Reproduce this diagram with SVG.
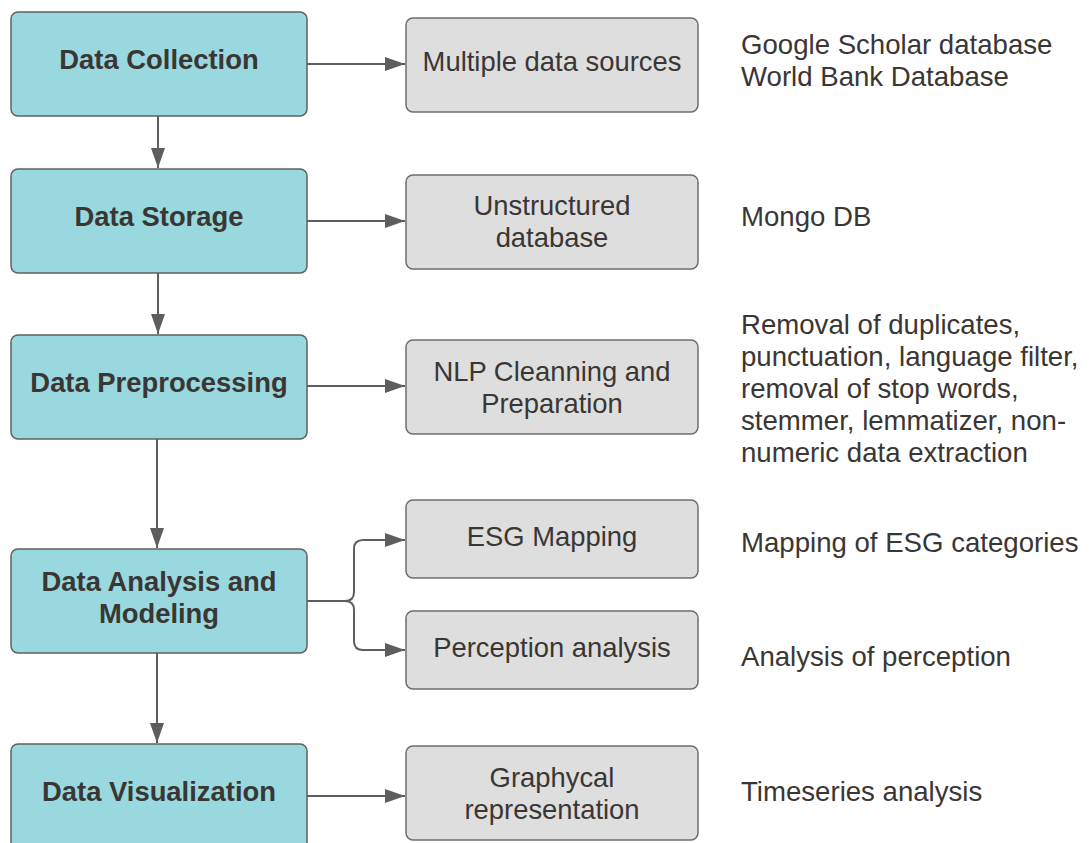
<svg xmlns="http://www.w3.org/2000/svg" width="1090" height="843" viewBox="0 0 1090 843">
<style>
.main rect{fill:#98d8de;stroke:#606060;stroke-width:1.5}
.sub rect{fill:#dedede;stroke:#6e6e6e;stroke-width:1.5}
text{font-family:"Liberation Sans",Arial,sans-serif;font-size:27.4px;fill:#3a3634}
.main text{font-weight:bold;text-anchor:middle}
.sub text{text-anchor:middle}
#notes text{font-size:27.6px}
.conn path{fill:none;stroke:#5e5e5e;stroke-width:2}
</style>
<defs>
<marker id="ah" viewBox="0 0 20 14" refX="20" refY="7" markerWidth="20" markerHeight="14" markerUnits="userSpaceOnUse" orient="auto">
<path d="M0,0 L20,7 L0,14 Z" fill="#5e5e5e"/>
</marker>
</defs>
<rect width="1090" height="843" fill="#ffffff"/>
<g class="conn">
<path d="M307,64 H405" marker-end="url(#ah)"/>
<path d="M307,221 H405" marker-end="url(#ah)"/>
<path d="M307,386 H405" marker-end="url(#ah)"/>
<path d="M307,601 H345 Q354,601 354,592 V549 Q354,540 363,540 H405" marker-end="url(#ah)"/>
<path d="M345,601 Q354,601 354,610 V641 Q354,650 363,650 H405" marker-end="url(#ah)"/>
<path d="M307,796 H405" marker-end="url(#ah)"/>
<path d="M158,116 V168" marker-end="url(#ah)"/>
<path d="M158,273 V334" marker-end="url(#ah)"/>
<path d="M157,439 V548" marker-end="url(#ah)"/>
<path d="M157,653 V743" marker-end="url(#ah)"/>
</g>
<g id="n1" class="main"><rect x="11" y="12" width="296" height="104" rx="7"/><text x="159" y="69">Data Collection</text></g>
<g id="n2" class="main"><rect x="11" y="169" width="296" height="104" rx="7"/><text x="159" y="226">Data Storage</text></g>
<g id="n3" class="main"><rect x="11" y="335" width="296" height="104" rx="7"/><text x="159" y="392">Data Preprocessing</text></g>
<g id="n4" class="main"><rect x="11" y="549" width="296" height="104" rx="7"/><text x="159" y="591">Data Analysis and</text><text x="159" y="623">Modeling</text></g>
<g id="n5" class="main"><rect x="11" y="744" width="296" height="110" rx="7"/><text x="159" y="801">Data Visualization</text></g>
<g id="s1" class="sub"><rect x="406" y="18" width="292" height="94" rx="7"/><text x="552" y="71">Multiple data sources</text></g>
<g id="s2" class="sub"><rect x="406" y="175" width="292" height="94" rx="7"/><text x="552" y="215">Unstructured</text><text x="552" y="247">database</text></g>
<g id="s3" class="sub"><rect x="406" y="340" width="292" height="94" rx="7"/><text x="552" y="381">NLP Cleanning and</text><text x="552" y="413">Preparation</text></g>
<g id="s4" class="sub"><rect x="406" y="500" width="292" height="78" rx="7"/><text x="552" y="546">ESG Mapping</text></g>
<g id="s5" class="sub"><rect x="406" y="611" width="292" height="78" rx="7"/><text x="552" y="657">Perception analysis</text></g>
<g id="s6" class="sub"><rect x="406" y="746" width="292" height="94" rx="7"/><text x="552" y="787">Graphycal</text><text x="552" y="819">representation</text></g>
<g id="notes">
<text x="741" y="54">Google Scholar database</text>
<text x="741" y="86">World Bank Database</text>
<text x="741" y="226">Mongo DB</text>
<text x="741" y="334">Removal of duplicates,</text>
<text x="741" y="366">punctuation, language filter,</text>
<text x="741" y="398">removal of stop words,</text>
<text x="741" y="430">stemmer, lemmatizer, non-</text>
<text x="741" y="462">numeric data extraction</text>
<text x="741" y="552">Mapping of ESG categories</text>
<text x="741" y="666">Analysis of perception</text>
<text x="741" y="801">Timeseries analysis</text>
</g>
</svg>
